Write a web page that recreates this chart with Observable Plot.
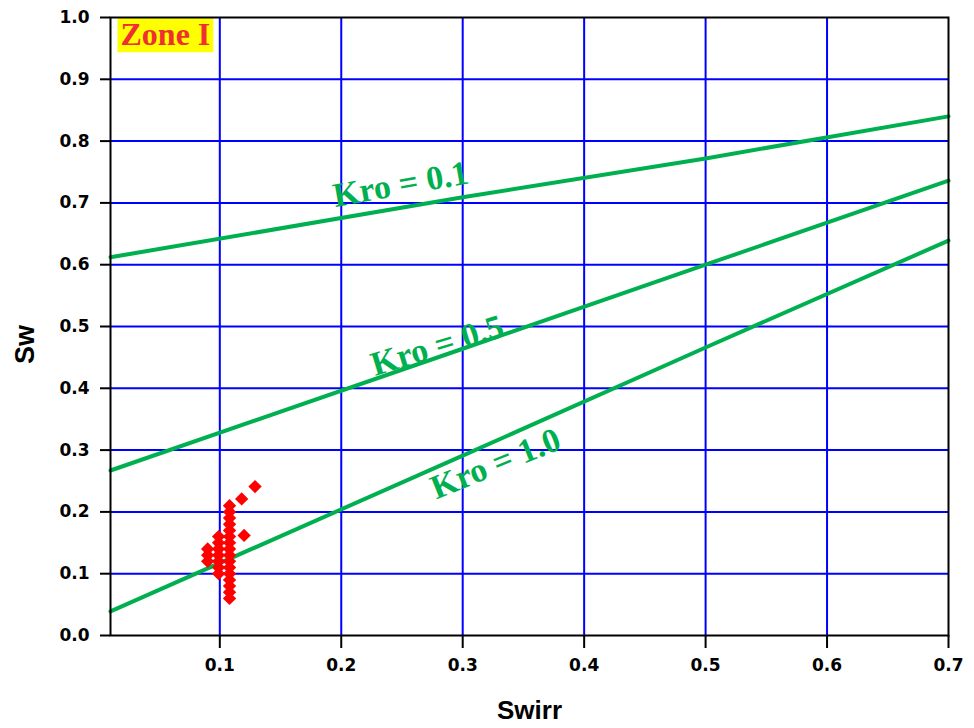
<!DOCTYPE html>
<html>
<head>
<meta charset="utf-8">
<script src="https://cdn.jsdelivr.net/npm/d3@7"></script>
<script src="https://cdn.jsdelivr.net/npm/@observablehq/plot@0.6"></script>
<style>
  html, body { margin: 0; padding: 0; background: #fff; }
</style>
</head>
<body>
<div id="chart"></div>
<script>
// ---- Data ----
const swirrTicks = [0.1, 0.2, 0.3, 0.4, 0.5, 0.6, 0.7];
const swTicks = [0.0, 0.1, 0.2, 0.3, 0.4, 0.5, 0.6, 0.7, 0.8, 0.9, 1.0];
const swirrGrid = [0.1, 0.2, 0.3, 0.4, 0.5, 0.6];
const swGrid = [0.1, 0.2, 0.3, 0.4, 0.5, 0.6, 0.7, 0.8, 0.9];

const lineSwirr = [0.01, 0.3, 0.5, 0.7];
const kro01Sw = [0.612, 0.709, 0.772, 0.840];
const kro05Sw = [0.267, 0.464, 0.600, 0.736];
const kro10Sw = [0.039, 0.291, 0.466, 0.639];

const kroLabels = ["Kro = 0.1", "Kro = 0.5", "Kro = 1.0"];
const kroLabelSwirr = [0.249, 0.279, 0.327];
const kroLabelSw = [0.730, 0.469, 0.278];

const pointSwirr = [
  0.108, 0.108, 0.108, 0.108, 0.108, 0.108, 0.108, 0.108,
  0.108, 0.108, 0.108, 0.108, 0.108, 0.108, 0.108, 0.108,
  0.099, 0.099, 0.099, 0.099, 0.099, 0.099, 0.099,
  0.090, 0.090, 0.090,
  0.120, 0.118, 0.129
];
const pointSw = [
  0.06, 0.07, 0.08, 0.09, 0.10, 0.11, 0.12, 0.13,
  0.14, 0.15, 0.16, 0.17, 0.18, 0.19, 0.20, 0.21,
  0.10, 0.11, 0.12, 0.13, 0.14, 0.15, 0.16,
  0.12, 0.13, 0.14,
  0.162, 0.221, 0.241
];

const zoneLabel = "Zone I";

// ---- Build tables ----
const curves = [
  ...lineSwirr.map((x, i) => ({curve: "0.1", x, y: kro01Sw[i]})),
  ...lineSwirr.map((x, i) => ({curve: "0.5", x, y: kro05Sw[i]})),
  ...lineSwirr.map((x, i) => ({curve: "1.0", x, y: kro10Sw[i]}))
];
const labels = kroLabels.map((t, i) => ({t, x: kroLabelSwirr[i], y: kroLabelSw[i]}));
const points = pointSwirr.map((x, i) => ({x, y: pointSw[i]}));
const labelAngles = [-10, -17, -22];

const green = "#00b050";
const tickFont = "DejaVu Sans, Verdana, sans-serif";

const chart = Plot.plot({
  width: 974,
  height: 728,
  marginLeft: 110,
  marginRight: 26,
  marginTop: 17,
  marginBottom: 93,
  x: {domain: [0.01, 0.7]},
  y: {domain: [0, 1]},
  style: {background: "#fff", color: "#000"},
  marks: [
    Plot.ruleY(swGrid, {stroke: "#0000ff", strokeWidth: 2}),
    Plot.ruleX(swirrGrid, {stroke: "#0000ff", strokeWidth: 2}),
    Plot.line(curves, {x: "x", y: "y", z: "curve", stroke: green, strokeWidth: 4}),
    Plot.dot(points, {x: "x", y: "y", symbol: "diamond2", r: 6, fill: "#ff0000", stroke: "none"}),
    Plot.text(labels, {
      x: "x", y: "y", text: "t",
      rotate: (d, i) => labelAngles[i],
      fill: green, fontSize: 34, fontWeight: "bold",
      fontFamily: "Liberation Serif, Times New Roman, serif"
    }),
    Plot.text([zoneLabel], {
      frameAnchor: "top-left", dx: 10, dy: 5,
      textAnchor: "start", lineAnchor: "top",
      fill: "#f03030", fontSize: 32, fontWeight: "bold",
      fontFamily: "Liberation Serif, Times New Roman, serif"
    }),
    Plot.frame({stroke: "#000", strokeWidth: 2}),
    Plot.axisX(swirrTicks, {
      tickSize: 13, tickPadding: 10, tickFormat: d3.format(".1f"),
      strokeWidth: 2, fontSize: 17, fontWeight: "bold", fontFamily: tickFont,
      label: null
    }),
    Plot.axisY(swTicks, {
      tickSize: 10, tickPadding: 11, tickFormat: d3.format(".1f"),
      strokeWidth: 2, fontSize: 17, fontWeight: "bold", fontFamily: tickFont,
      label: null
    }),
    Plot.text(["Swirr"], {
      frameAnchor: "bottom", lineAnchor: "middle", textAnchor: "middle", dy: 75,
      fontSize: 26, fontWeight: "bold",
      fontFamily: "Liberation Sans, Arial, sans-serif", fill: "#000"
    }),
    Plot.text(["Sw"], {
      frameAnchor: "left", lineAnchor: "middle", textAnchor: "middle",
      dx: -85, dy: 18, rotate: -90, fontSize: 27, fontWeight: "bold",
      fontFamily: "Liberation Sans, Arial, sans-serif", fill: "#000"
    })
  ]
});

document.getElementById("chart").append(chart);

// yellow background behind the zone label
const svgNS = "http://www.w3.org/2000/svg";
for (const t of chart.querySelectorAll("text")) {
  if (t.textContent === zoneLabel) {
    const bb = t.getBBox();
    const g = t.parentNode;
    const rect = document.createElementNS(svgNS, "rect");
    rect.setAttribute("x", bb.x - 3);
    rect.setAttribute("y", bb.y + 2);
    rect.setAttribute("width", bb.width + 6);
    rect.setAttribute("height", bb.height - 2);
    rect.setAttribute("fill", "#ffff00");
    if (t.getAttribute("transform")) rect.setAttribute("transform", t.getAttribute("transform"));
    g.insertBefore(rect, t);
  }
}
</script>
</body>
</html>
